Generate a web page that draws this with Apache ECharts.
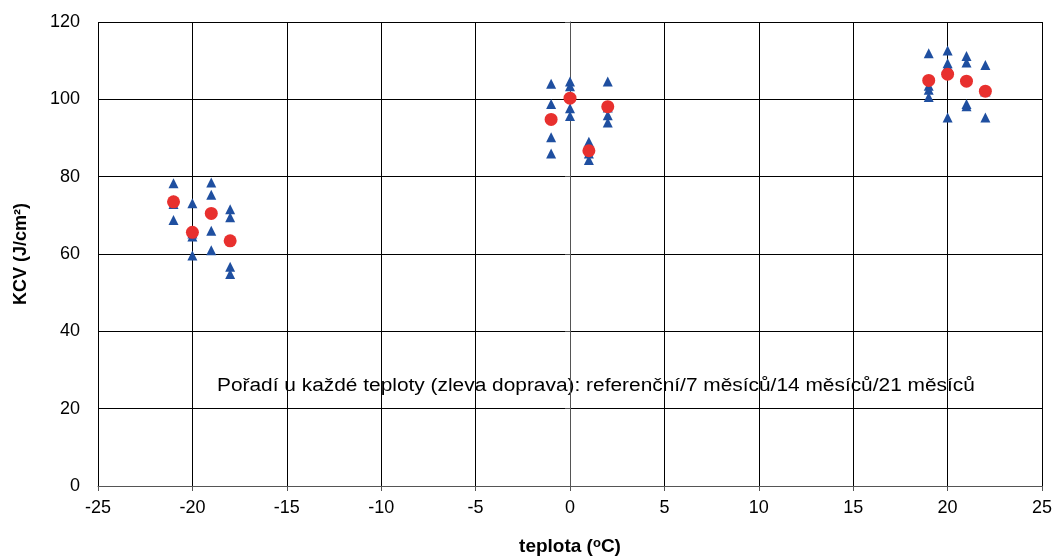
<!DOCTYPE html>
<html>
<head>
<meta charset="utf-8">
<script src="https://cdn.jsdelivr.net/npm/echarts@6/dist/echarts.min.js"></script>
<style>
  html, body { margin: 0; padding: 0; background: #fff; }
  #chart { width: 1055px; height: 559px; }
</style>
</head>
<body>
<div id="chart"></div>
<script type="text/javascript">
// temperatures (x) and measured KCV per temperature, in order referenční / 7 / 14 / 21 měsíců
var teploty = [-21, -20, -19, -18, -1, 0, 1, 2, 19, 20, 21, 22];
var mereni = [
  [78.3, 73.9, 68.8, 72.9],
  [73.1, 64.5, 65.3, 59.6],
  [78.5, 75.3, 66.0, 61.0],
  [71.6, 69.5, 56.7, 54.8],
  [104.0, 98.8, 90.2, 86.0],
  [104.6, 103.4, 97.7, 95.7],
  [89.0, 87.5, 86.0, 84.3],
  [104.6, 97.9, 95.9, 94.0],
  [111.9, 103.5, 102.5, 100.6],
  [112.6, 109.3, 108.6, 95.3],
  [111.2, 109.5, 98.8, 98.2],
  [108.9, 102.1, 102.1, 95.3]
];
// average values (red circles)
var prumer = [73.5, 65.6, 70.5, 63.4, 94.8, 100.3, 86.7, 98.1, 104.9, 106.5, 104.7, 102.1];

var xTicks = [-25, 25, 5];
var yTicks = [0, 120, 20];
var poznamka = 'Pořadí u každé teploty (zleva doprava): referenční/7 měsíců/14 měsíců/21 měsíců';

var trojuhelniky = [];
for (var i = 0; i < teploty.length; i++) {
  for (var j = 0; j < mereni[i].length; j++) {
    trojuhelniky.push([teploty[i], mereni[i][j]]);
  }
}
var kolecka = [];
for (var k = 0; k < teploty.length; k++) {
  kolecka.push([teploty[k], prumer[k]]);
}

var chart = echarts.init(document.getElementById('chart'));
var font = 'Liberation Sans, Arial, sans-serif';
chart.setOption({
  backgroundColor: '#fff',
  animation: false,
  grid: { left: 98, right: 13, top: 22, bottom: 73, outerBoundsMode: 'none', containLabel: false },
  xAxis: {
    type: 'value',
    min: xTicks[0], max: xTicks[1], interval: xTicks[2],
    name: '{b|teplota (}{s|o}{b|C)}',
    nameLocation: 'middle',
    nameGap: 51,
    nameTextStyle: {
      rich: {
        b: { fontFamily: font, fontSize: 19, fontWeight: 'bold', color: '#000' },
        s: { fontFamily: font, fontSize: 13, fontWeight: 'bold', color: '#000', verticalAlign: 'top', padding: [0, 0, 6, 0] }
      }
    },
    axisLine: { onZero: false, lineStyle: { color: '#555', width: 1 } },
    axisTick: { show: true, length: 5, lineStyle: { color: '#555' } },
    axisLabel: { fontFamily: font, fontSize: 18, color: '#000', margin: 13 },
    splitLine: { show: true, lineStyle: { color: '#000', width: 1 } }
  },
  yAxis: {
    type: 'value',
    min: yTicks[0], max: yTicks[1], interval: yTicks[2],
    name: 'KCV (J/cm²)',
    nameLocation: 'middle',
    nameGap: 68,
    nameTextStyle: { fontFamily: font, fontSize: 18, fontWeight: 'bold', color: '#000' },
    axisLine: { show: true, lineStyle: { color: '#555', width: 1 } },
    axisTick: { show: true, length: 5, lineStyle: { color: '#555' } },
    axisLabel: { fontFamily: font, fontSize: 18, color: '#000', margin: 18 },
    splitLine: { show: true, lineStyle: { color: '#000', width: 1 } }
  },
  graphic: [{
    type: 'text',
    x: 217,
    y: 377,
    scaleX: 1.16,
    style: { text: poznamka, fontFamily: font, fontSize: 18, fill: '#000' }
  }],
  series: [
    {
      name: 'měření',
      type: 'scatter',
      symbol: 'triangle',
      symbolSize: 10,
      itemStyle: { color: '#1f4fa0', opacity: 1 },
      data: trojuhelniky
    },
    {
      name: 'průměr',
      type: 'scatter',
      symbol: 'circle',
      symbolSize: 13,
      itemStyle: { color: '#e8302e', opacity: 1 },
      data: kolecka
    }
  ]
});
</script>
</body>
</html>
